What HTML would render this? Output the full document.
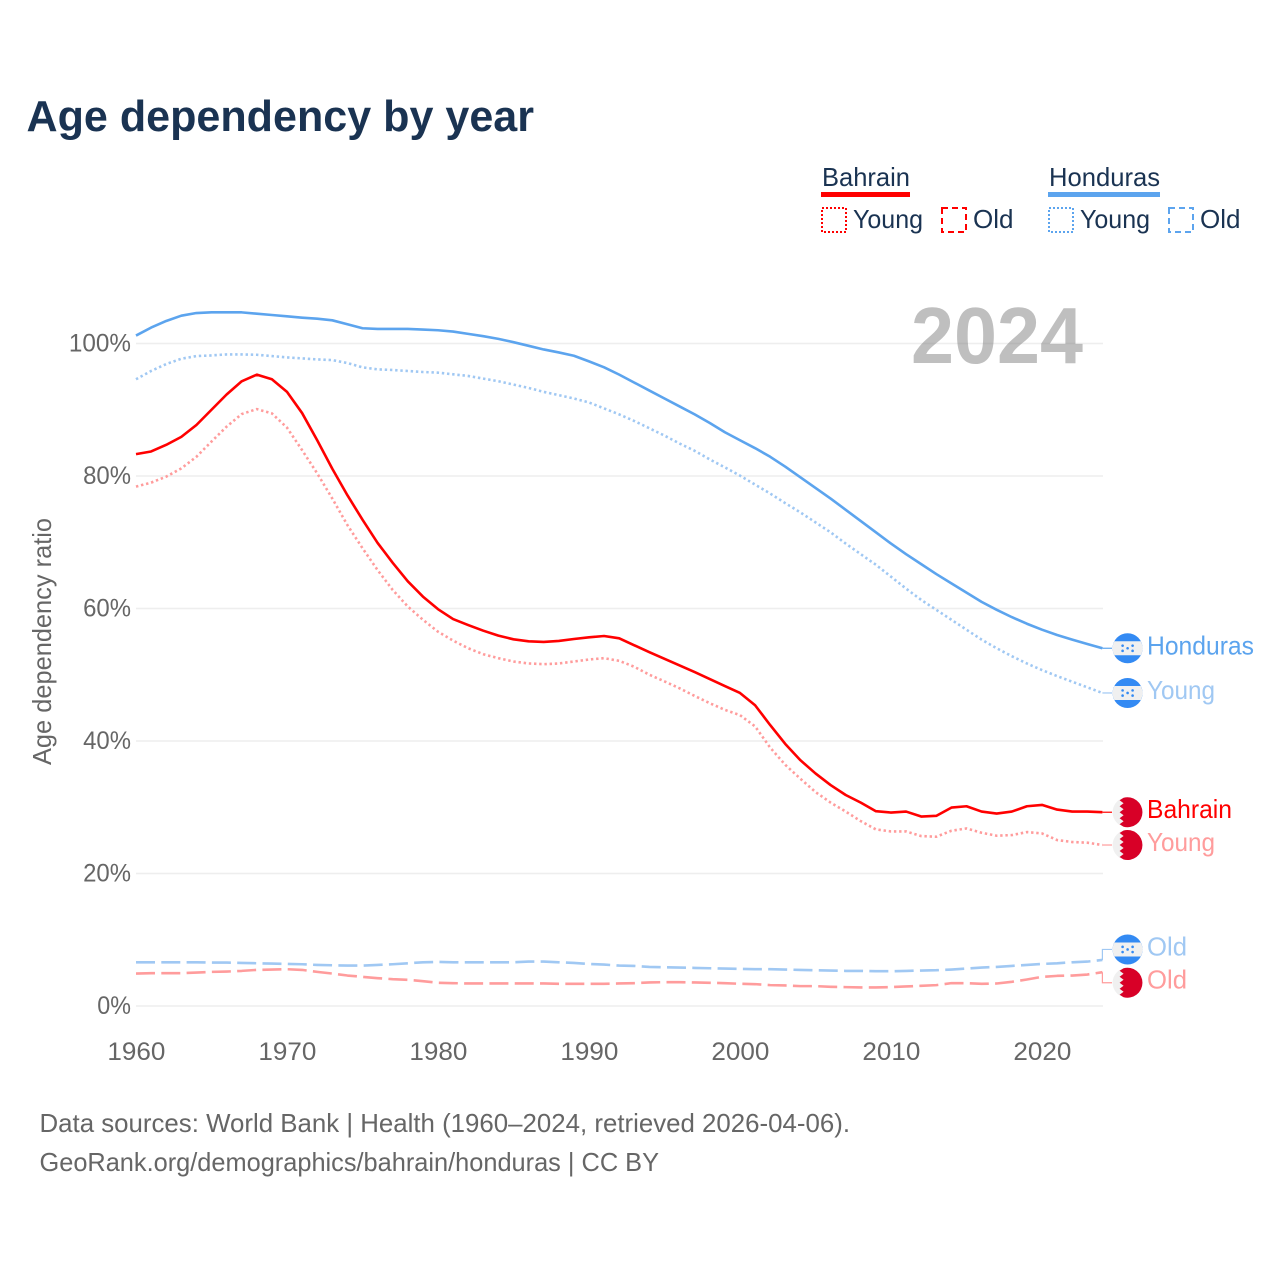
<!DOCTYPE html>
<html lang="en">
<head>
<meta charset="utf-8">
<title>Age dependency by year</title>
<style>
html,body{margin:0;padding:0;background:#fff;}
svg{display:block;font-family:"Liberation Sans",sans-serif;}
</style>
</head>
<body>
<svg id="chart" xmlns="http://www.w3.org/2000/svg" width="1280" height="1280" viewBox="0 0 1280 1280">
  <text x="26.5" y="131" font-size="44" font-weight="700" fill="#1a3352" textLength="507.5" lengthAdjust="spacingAndGlyphs">Age dependency by year</text>

  <g font-size="26" fill="#1a3352">
    <text x="822" y="186" textLength="88" lengthAdjust="spacingAndGlyphs">Bahrain</text>
    <rect x="821" y="192" width="89" height="5" fill="#ff0000"/>
    <rect x="822" y="208" width="24" height="24" fill="none" stroke="#ff0000" stroke-width="2" stroke-dasharray="2 2"/>
    <text x="853" y="228" textLength="70" lengthAdjust="spacingAndGlyphs">Young</text>
    <rect x="942" y="208" width="24" height="24" fill="none" stroke="#ff0000" stroke-width="2" stroke-dasharray="6 4"/>
    <text x="973" y="228" textLength="40.5" lengthAdjust="spacingAndGlyphs">Old</text>
    <text x="1049" y="186" textLength="111" lengthAdjust="spacingAndGlyphs">Honduras</text>
    <rect x="1048" y="192" width="112" height="5" fill="#5ca4ee"/>
    <rect x="1049" y="208" width="24" height="24" fill="none" stroke="#5ca4ee" stroke-width="2" stroke-dasharray="2 2"/>
    <text x="1080" y="228" textLength="70" lengthAdjust="spacingAndGlyphs">Young</text>
    <rect x="1169" y="208" width="24" height="24" fill="none" stroke="#5ca4ee" stroke-width="2" stroke-dasharray="6 4"/>
    <text x="1200" y="228" textLength="40.5" lengthAdjust="spacingAndGlyphs">Old</text>
  </g>

  <text transform="translate(51,641.5) rotate(-90)" text-anchor="middle" font-size="26" fill="#666666" textLength="247" lengthAdjust="spacingAndGlyphs">Age dependency ratio</text>

  <g id="grid"></g>
  <g id="yticks"></g>
  <g id="xticks"></g>

  <text x="911" y="363" font-size="80" font-weight="700" fill="#777777" fill-opacity="0.47" textLength="172" lengthAdjust="spacingAndGlyphs">2024</text>

  <g id="series"></g>
  <g id="endlabels"></g>

  <text x="39.5" y="1132" font-size="26" fill="#666666" textLength="810.5" lengthAdjust="spacingAndGlyphs">Data sources: World Bank | Health (1960–2024, retrieved 2026-04-06).</text>
  <text x="39.5" y="1171" font-size="26" fill="#666666" textLength="619.5" lengthAdjust="spacingAndGlyphs">GeoRank.org/demographics/bahrain/honduras | CC BY</text>
</svg>

<script>
var firstYear = 1960;
var yTickValues = [0, 20, 40, 60, 80, 100];
var xTickYears = [1960, 1970, 1980, 1990, 2000, 2010, 2020];

var hondurasTotal = [
  101.2,102.4,103.4,104.2,104.6,104.7,104.7,104.7,104.5,104.3,
  104.1,103.9,103.75,103.5,102.9,102.3,102.2,102.2,102.2,102.1,
  102.0,101.8,101.45,101.1,100.7,100.2,99.65,99.1,98.65,98.15,
  97.3,96.4,95.3,94.1,92.9,91.7,90.5,89.3,88.0,86.6,
  85.4,84.2,82.9,81.4,79.8,78.2,76.6,74.9,73.2,71.5,
  69.8,68.2,66.7,65.2,63.8,62.4,61.0,59.8,58.7,57.7,
  56.8,56.0,55.3,54.65,54.0
];
var hondurasYoung = [
  94.6,95.85,96.9,97.7,98.1,98.2,98.35,98.35,98.3,98.1,
  97.9,97.75,97.6,97.5,97.05,96.4,96.1,96.0,95.85,95.7,
  95.6,95.35,95.1,94.7,94.3,93.8,93.3,92.7,92.2,91.7,
  91.1,90.2,89.3,88.3,87.2,86.1,84.9,83.8,82.5,81.3,
  80.05,78.7,77.35,75.9,74.5,73.0,71.5,69.8,68.2,66.6,
  64.8,63.0,61.3,59.8,58.3,56.8,55.3,54.0,52.8,51.7,
  50.7,49.8,48.95,48.1,47.25
];
var hondurasOld = [
  6.6,6.6,6.6,6.6,6.6,6.55,6.55,6.5,6.45,6.4,
  6.35,6.3,6.2,6.15,6.1,6.1,6.2,6.3,6.45,6.6,
  6.65,6.6,6.6,6.6,6.6,6.6,6.7,6.7,6.6,6.5,
  6.35,6.25,6.1,6.05,5.9,5.85,5.8,5.75,5.7,5.65,
  5.6,5.55,5.55,5.5,5.45,5.4,5.35,5.3,5.3,5.25,
  5.25,5.3,5.35,5.4,5.5,5.65,5.8,5.9,6.05,6.2,
  6.35,6.45,6.6,6.7,6.95
];
var bahrainTotal = [
  83.3,83.7,84.7,85.9,87.7,90.0,92.3,94.3,95.3,94.6,
  92.7,89.5,85.4,81.1,77.1,73.4,69.9,66.9,64.1,61.8,
  59.9,58.4,57.5,56.65,55.9,55.35,55.05,54.95,55.1,55.4,
  55.65,55.85,55.5,54.45,53.4,52.4,51.4,50.4,49.35,48.3,
  47.25,45.4,42.4,39.55,37.1,35.1,33.35,31.85,30.7,29.4,
  29.2,29.35,28.6,28.7,29.95,30.15,29.35,29.05,29.35,30.15,
  30.35,29.65,29.35,29.35,29.25
];
var bahrainYoung = [
  78.4,79.0,79.9,81.15,82.9,85.2,87.45,89.35,90.1,89.45,
  87.3,83.9,80.4,76.6,72.6,69.1,65.8,62.8,60.3,58.3,
  56.5,55.15,54.0,53.1,52.5,52.0,51.7,51.6,51.7,52.0,
  52.3,52.5,52.1,51.2,50.0,49.0,47.95,46.8,45.7,44.7,
  43.9,42.2,39.0,36.4,34.3,32.3,30.7,29.35,27.9,26.65,
  26.35,26.35,25.65,25.55,26.45,26.8,26.15,25.7,25.8,26.25,
  26.05,25.05,24.75,24.65,24.3
];
var bahrainOld = [
  4.9,4.95,4.95,4.95,5.05,5.15,5.2,5.3,5.45,5.5,
  5.55,5.45,5.15,4.9,4.6,4.4,4.2,4.05,3.95,3.75,
  3.5,3.45,3.4,3.4,3.4,3.4,3.4,3.4,3.35,3.35,
  3.35,3.35,3.4,3.45,3.55,3.6,3.6,3.55,3.5,3.45,
  3.35,3.3,3.15,3.1,3.0,3.0,2.9,2.85,2.8,2.8,
  2.85,2.95,3.05,3.15,3.45,3.45,3.35,3.4,3.65,4.0,
  4.4,4.55,4.6,4.75,5.1
];

var NS = 'http://www.w3.org/2000/svg';
function xScale(year) { return 136 + (year - firstYear) * 15.1; }
function yScale(value) { return 1006 - value * 6.625; }

function make(tag, attrs, parent) {
  var node = document.createElementNS(NS, tag);
  for (var key in attrs) { node.setAttribute(key, attrs[key]); }
  parent.appendChild(node);
  return node;
}

var gridGroup = document.getElementById('grid');
var yTickGroup = document.getElementById('yticks');
var xTickGroup = document.getElementById('xticks');
var seriesGroup = document.getElementById('series');
var endGroup = document.getElementById('endlabels');
var xEnd = xScale(firstYear + hondurasTotal.length - 1);

yTickValues.forEach(function (v) {
  var line = make('line', {x1: 136, x2: 1103, y1: yScale(v), y2: yScale(v), stroke: '#eeeeee', 'stroke-width': 1.6}, gridGroup);
  
  
  var label = v + '%';
  var width = 14.2 * String(v).length + 19.5;
  var t = make('text', {x: 131 - width, y: yScale(v) + 7.8, 'font-size': 25, fill: '#666666', textLength: width, lengthAdjust: 'spacingAndGlyphs'}, yTickGroup);
  t.textContent = label;
  
  
});

xTickYears.forEach(function (yr) {
  var t = make('text', {x: xScale(yr) - 28.6, y: 1060, 'font-size': 25, fill: '#666666', textLength: 58, lengthAdjust: 'spacingAndGlyphs'}, xTickGroup);
  t.textContent = yr;
  
  
});

function pathFor(values) {
  return values.map(function (v, i) {
    return (i ? 'L' : 'M') + xScale(firstYear + i).toFixed(2) + ' ' + yScale(v).toFixed(2);
  }).join(' ');
}

function drawSeries(values, color, dash, name) {
  var attrs = {d: pathFor(values), fill: 'none', stroke: color, 'stroke-width': 2.6, 'stroke-linejoin': 'round'};
  if (dash) { attrs['stroke-dasharray'] = dash; }
  var p = make('path', attrs, seriesGroup);
  
  
}

var RED = '#ff0000', RED_LIGHT = '#ff9c9c', BLUE = '#5ca4ee', BLUE_LIGHT = '#a0c8f3';
var DOT = '2.4 2.8', DASH = '19 6.3';

drawSeries(hondurasOld, BLUE_LIGHT, DASH, 'honduras-old-line');
drawSeries(bahrainOld, RED_LIGHT, DASH, 'bahrain-old-line');
drawSeries(hondurasYoung, BLUE_LIGHT, DOT, 'honduras-young-line');
drawSeries(bahrainYoung, RED_LIGHT, DOT, 'bahrain-young-line');
drawSeries(hondurasTotal, BLUE, null, 'honduras-total-line');
drawSeries(bahrainTotal, RED, null, 'bahrain-total-line');

function drawHondurasFlag(cx, cy, name) {
  var g = make('g', {transform: 'translate(' + cx + ',' + cy + ')'}, endGroup);
  
  
  make('circle', {r: 15, fill: '#338af3'}, g);
  make('path', {d: 'M-13.2 -7 H13.2 A15 15 0 0 1 13.2 7 H-13.2 A15 15 0 0 1 -13.2 -7 Z', fill: '#f0f0f0'}, g);
  [[-5, -2.6], [5, -2.6], [0, 0], [-5, 2.6], [5, 2.6]].forEach(function (s) {
    make('circle', {cx: s[0], cy: s[1], r: 1.3, fill: '#338af3'}, g);
  });
}

function drawBahrainFlag(cx, cy, name) {
  var g = make('g', {transform: 'translate(' + cx + ',' + cy + ')'}, endGroup);
  
  
  make('circle', {r: 15, fill: '#f0f0f0'}, g);
  make('path', {d: 'M-4 -14.5 A15 15 0 1 1 -4 14.5 L-8 12 L-4 9 L-8 6 L-4 3 L-8 0 L-4 -3 L-8 -6 L-4 -9 L-8 -12 Z', fill: '#d80027'}, g);
}

function drawEndLabel(text, color, yPos, width, name) {
  var t = make('text', {x: 1147, y: yPos + 6, 'font-size': 26, fill: color, textLength: width, lengthAdjust: 'spacingAndGlyphs'}, endGroup);
  t.textContent = text;
  
  
}

function drawConnector(yFrom, yTo, color, name) {
  var d = 'M' + xEnd + ' ' + yFrom + ' V' + yTo + ' H1112';
  var c = make('path', {d: d, fill: 'none', stroke: color, 'stroke-width': 1.2}, endGroup);
  
  
}

var FLAG_X = 1127.6;
var yHT = yScale(hondurasTotal[hondurasTotal.length - 1]);
var yHY = yScale(hondurasYoung[hondurasYoung.length - 1]);
var yHO = yScale(hondurasOld[hondurasOld.length - 1]);
var yBT = yScale(bahrainTotal[bahrainTotal.length - 1]);
var yBY = yScale(bahrainYoung[bahrainYoung.length - 1]);
var yBO = yScale(bahrainOld[bahrainOld.length - 1]);

drawConnector(yHT, yHT, BLUE, 'honduras-total-connector');
drawConnector(yHY, yHY, BLUE_LIGHT, 'honduras-young-connector');
drawConnector(yBT, yBT, RED, 'bahrain-total-connector');
drawConnector(yBY, yBY, RED_LIGHT, 'bahrain-young-connector');
drawConnector(yHO, yHO - 10.5, BLUE_LIGHT, 'honduras-old-connector');
drawConnector(yBO, yBO + 10.5, RED_LIGHT, 'bahrain-old-connector');

drawHondurasFlag(FLAG_X, yHT, 'honduras-total-flag');
drawHondurasFlag(FLAG_X, yHY, 'honduras-young-flag');
drawBahrainFlag(FLAG_X, yBT, 'bahrain-total-flag');
drawBahrainFlag(FLAG_X, yBY, 'bahrain-young-flag');
drawHondurasFlag(FLAG_X, yHO - 10.5, 'honduras-old-flag');
drawBahrainFlag(FLAG_X, yBO + 10.5, 'bahrain-old-flag');

drawEndLabel('Honduras', BLUE, yHT, 107, 'honduras-total-label');
drawEndLabel('Young', BLUE_LIGHT, yHY, 68, 'honduras-young-label');
drawEndLabel('Bahrain', RED, yBT, 85, 'bahrain-total-label');
drawEndLabel('Young', RED_LIGHT, yBY, 68, 'bahrain-young-label');
drawEndLabel('Old', BLUE_LIGHT, yHO - 10.5, 40, 'honduras-old-label');
drawEndLabel('Old', RED_LIGHT, yBO + 10.5, 40, 'bahrain-old-label');
</script>
</body>
</html>
